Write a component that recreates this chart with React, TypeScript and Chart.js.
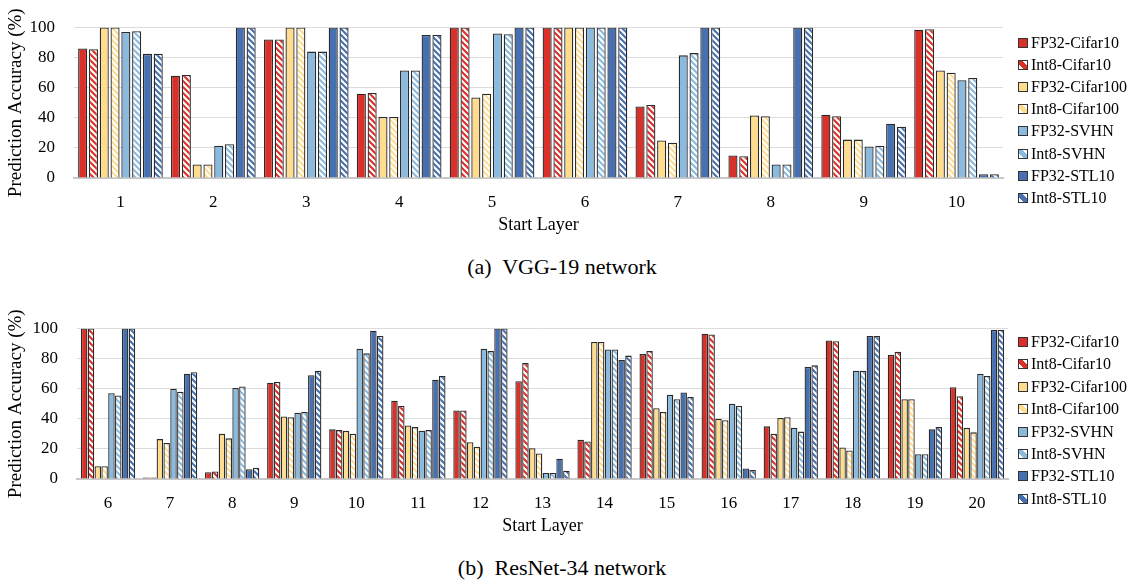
import React, { useEffect, useRef } from 'react';
import { Chart, registerables } from 'chart.js';

Chart.register(...registerables);

// ---------- data ----------
const seriesNames = [
  'FP32-Cifar10', 'Int8-Cifar10', 'FP32-Cifar100', 'Int8-Cifar100',
  'FP32-SVHN', 'Int8-SVHN', 'FP32-STL10', 'Int8-STL10',
];
const seriesColors = ['#D9302A', '#D9302A', '#FFDC8E', '#FFDC8E', '#8BBADF', '#8BBADF', '#4670B0', '#4670B0'];
const seriesStriped = [false, true, false, true, false, true, false, true];

const vggLayers = ['1', '2', '3', '4', '5', '6', '7', '8', '9', '10'];
const vggFp32Cifar10 = [86, 68, 92, 56, 100, 100, 47.5, 15, 42, 98.5];
const vggInt8Cifar10 = [85.5, 68.5, 92, 56.5, 100, 100, 48.5, 14.5, 41, 98.8];
const vggFp32Cifar100 = [100, 9, 100, 40.5, 53.5, 100, 25, 41.5, 25.5, 71.5];
const vggInt8Cifar100 = [100, 9, 100, 40.5, 56, 100, 23.5, 41, 25.5, 70];
const vggFp32Svhn = [97, 21.5, 84, 71.5, 96, 100, 81.5, 9, 21, 65];
const vggInt8Svhn = [97.5, 22.5, 84, 71.5, 95.5, 100, 83, 9, 21.5, 66.5];
const vggFp32Stl10 = [82.5, 100, 100, 95, 100, 100, 100, 100, 36, 2.5];
const vggInt8Stl10 = [82.5, 100, 100, 95, 100, 100, 100, 100, 34, 2.5];

const resLayers = ['6', '7', '8', '9', '10', '11', '12', '13', '14', '15', '16', '17', '18', '19', '20'];
const resFp32Cifar10 = [100, 1, 4.5, 64, 33, 52, 45.5, 65, 26, 83, 96.5, 35, 92, 82.5, 61];
const resInt8Cifar10 = [100, 1, 5, 64.5, 32.5, 48.5, 45.5, 77, 25, 85, 96, 30, 91.5, 84.5, 55];
const resFp32Cifar100 = [8.5, 26.5, 30, 41.5, 32, 35.5, 24.5, 20.5, 91, 47, 40, 40.5, 21, 53, 34];
const resInt8Cifar100 = [8.5, 24, 27, 41, 30, 34.5, 21.5, 17, 91, 44.5, 39, 41, 19, 53, 31];
const resFp32Svhn = [57, 60, 60.5, 44, 86.5, 32, 86.5, 4, 86, 56, 50, 34, 72, 16.5, 70];
const resInt8Svhn = [55.5, 58, 61.5, 44.5, 83.5, 32.5, 85, 4, 86, 53, 48.5, 31.5, 72, 16.5, 68.5];
const resFp32Stl10 = [100, 70, 6.5, 69, 98.5, 66, 100, 13.5, 79, 57.5, 7, 74.5, 95, 33, 99];
const resInt8Stl10 = [100, 71, 7.5, 72, 95, 68.5, 100, 5.5, 82, 54.5, 6, 75.5, 95, 34.5, 99];

const yTicks = [0, 20, 40, 60, 80, 100];

const FONT = "'Liberation Serif', 'Times New Roman', serif";

function stripePattern(color: string) {
  const size = 6;
  const c = document.createElement('canvas');
  c.width = size;
  c.height = size;
  const ctx = c.getContext('2d')!;
  ctx.fillStyle = '#ffffff';
  ctx.fillRect(0, 0, size, size);
  ctx.strokeStyle = color;
  ctx.lineWidth = 2.1;
  ctx.beginPath();
  ctx.moveTo(-1, -1);
  ctx.lineTo(size + 1, size + 1);
  ctx.moveTo(-1, size - 1);
  ctx.lineTo(1, size + 1);
  ctx.moveTo(size - 1, -1);
  ctx.lineTo(size + 1, 1);
  ctx.stroke();
  return ctx.createPattern(c, 'repeat')!;
}

type PanelProps = {
  labels: string[];
  series: number[][];
  top: number;
  areaLeft: number;
  areaRight: number;
  catPct: number;
  barPct: number;
  legendTop: number;
  legendStep: number;
  caption: string;
  captionY: number;
};

function Panel(p: PanelProps) {
  const ref = useRef<HTMLCanvasElement | null>(null);
  const W = 1136;
  const H = 240;
  useEffect(() => {
    const canvas = ref.current!;
    const datasets = p.series.map((vals, i) => ({
      label: seriesNames[i],
      data: vals,
      backgroundColor: seriesStriped[i] ? stripePattern(seriesColors[i]) : seriesColors[i],
      borderColor: '#2a2a2a',
      borderWidth: 1.3,
      categoryPercentage: p.catPct,
      barPercentage: p.barPct,
    }));
    const chart = new Chart(canvas, {
      type: 'bar',
      data: { labels: p.labels, datasets },
      options: {
        animation: false,
        responsive: false,
        maintainAspectRatio: false,
        devicePixelRatio: 1,
        layout: { padding: { top: 9, right: W - p.areaRight, left: 0, bottom: 0 } },
        plugins: { legend: { display: false }, tooltip: { enabled: false } },
        scales: {
          x: {
            grid: { display: false },
            border: { display: true, color: '#c8c8c8', width: 2 },
            ticks: { font: { family: FONT, size: 17, lineHeight: 1 }, color: '#000', padding: 8 },
            title: {
              display: true,
              text: 'Start Layer',
              font: { family: FONT, size: 18 },
              color: '#000',
              padding: { top: 0, bottom: 4 },
            },
            afterFit: (s: any) => { s.height = 62; },
          },
          y: {
            min: 0,
            max: 100,
            afterBuildTicks: (s: any) => { s.ticks = yTicks.map((v) => ({ value: v })); },
            ticks: { font: { family: FONT, size: 17, lineHeight: 1 }, color: '#000', padding: 19 },
            grid: { color: '#dcdcdc', drawTicks: false, lineWidth: 1 },
            border: { display: false },
            title: {
              display: true,
              text: 'Prediction Accuracy (%)',
              font: { family: FONT, size: 19 },
              color: '#000',
              padding: { top: 5, bottom: 0 },
            },
            afterFit: (s: any) => { s.width = p.areaLeft; },
          },
        },
      },
    });
    return () => chart.destroy();
  }, []);

  return (
    <>
      <canvas
        ref={ref}
        width={W}
        height={H}
        style={{ position: 'absolute', left: 0, top: p.top, width: W, height: H }}
      />
      {seriesNames.map((name, i) => (
        <div
          key={name}
          style={{
            position: 'absolute',
            left: 1018,
            top: p.legendTop + i * p.legendStep - 11,
            height: 22,
            display: 'flex',
            alignItems: 'center',
            fontFamily: FONT,
            fontSize: 16,
            color: '#000',
            whiteSpace: 'nowrap',
          }}
        >
          <span
            style={{
              display: 'inline-block',
              width: 10,
              height: 10,
              boxSizing: 'border-box',
              border: '1px solid #333',
              marginRight: 3,
              background: seriesStriped[i]
                ? `linear-gradient(45deg, #fff 30%, ${seriesColors[i]} 30%, ${seriesColors[i]} 70%, #fff 70%)`
                : seriesColors[i],
            }}
          />
          <span>{name}</span>
        </div>
      ))}
      <div
        style={{
          position: 'absolute',
          left: 0,
          width: 1136,
          top: p.captionY - 14,
          height: 28,
          lineHeight: '28px',
          textAlign: 'center',
          fontFamily: FONT,
          fontSize: 22,
          color: '#000',
        }}
      >
        <span style={{ position: 'relative', left: -6, whiteSpace: 'pre' }}>{p.caption}</span>
      </div>
    </>
  );
}

export default function App() {
  return (
    <div
      style={{
        position: 'absolute',
        left: 0,
        top: 0,
        width: 1136,
        height: 584,
        overflow: 'hidden',
        background: '#fff',
      }}
    >
      <Panel
        labels={vggLayers}
        series={[vggFp32Cifar10, vggInt8Cifar10, vggFp32Cifar100, vggInt8Cifar100, vggFp32Svhn, vggInt8Svhn, vggFp32Stl10, vggInt8Stl10]}
        top={0}
        areaLeft={74}
        areaRight={1003}
        catPct={0.93}
        barPct={0.84}
        legendTop={43}
        legendStep={22.1}
        caption={'(a)  VGG-19 network'}
        captionY={267}
      />
      <Panel
        labels={resLayers}
        series={[resFp32Cifar10, resInt8Cifar10, resFp32Cifar100, resInt8Cifar100, resFp32Svhn, resInt8Svhn, resFp32Stl10, resInt8Stl10]}
        top={301}
        areaLeft={77}
        areaRight={1008}
        catPct={0.88}
        barPct={0.95}
        legendTop={342}
        legendStep={22.4}
        caption={'(b)  ResNet-34 network'}
        captionY={568}
      />
    </div>
  );
}
